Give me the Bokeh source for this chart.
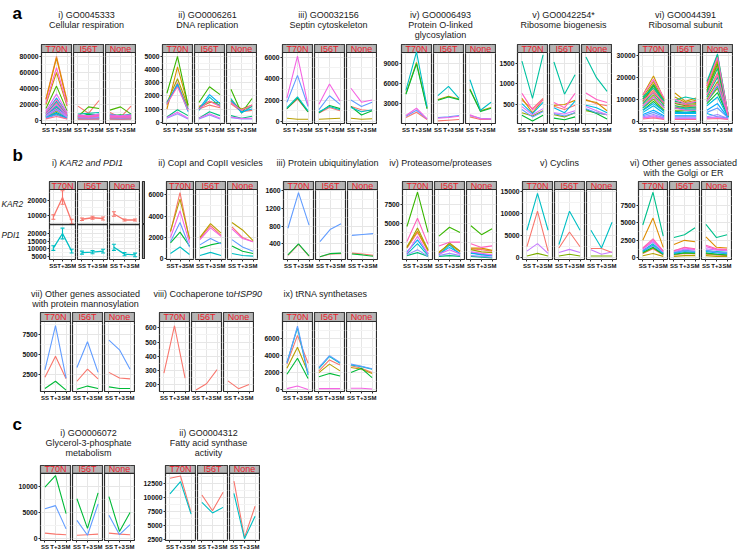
import math
from bokeh.plotting import figure
from bokeh.layouts import row, column
from bokeh.models import (Range1d, FixedTicker, ColumnDataSource, Whisker, TeeHead,
                          BasicTickFormatter, Spacer, Span, AllLabels)
from bokeh.core.properties import value
from bokeh.embed import file_html
from bokeh.resources import INLINE

# ---------------- data ----------------
STAGES = ["SS", "T+3", "SM"]
MUTANTS = ["T70N", "I56T", "None"]

# each row: T70N (SS, T+3, SM) | I56T (SS, T+3, SM) | None (SS, T+3, SM)
A1_RESPIRATION = [
    [9000, 22000, 7000, 18000, 9000, 25000, 10000, 4000, 18000],
    [27000, 80000, 25000, 5000, 4000, 6000, 6000, 4000, 5000],
    [26000, 78000, 23000, 6000, 5000, 7000, 7000, 5000, 6000],
    [20000, 60000, 18000, 4000, 4000, 5000, 5000, 3000, 4000],
    [8000, 18000, 6000, 3000, 3000, 4000, 3000, 2500, 3000],
    [5000, 12000, 4000, 2000, 2500, 2500, 2500, 2000, 2500],
    [3000, 8000, 2500, 2000, 2000, 2000, 2000, 1500, 2000],
    [15000, 43000, 12000, 5000, 17000, 15000, 13000, 17000, 8000],
    [7000, 16000, 6000, 4000, 8000, 7000, 6000, 7000, 5000],
    [4000, 10000, 3000, 3000, 4000, 3000, 3000, 3000, 3000],
    [6000, 14000, 5000, 3000, 3000, 3000, 4000, 3000, 3000],
    [5000, 20000, 6000, 8000, 9000, 10000, 7000, 6000, 8000],
    [8000, 24000, 7000, 6000, 5000, 6000, 8000, 5000, 7000],
    [6000, 18000, 5000, 4000, 4000, 4000, 5000, 4000, 4000],
    [10000, 28000, 9000, 5000, 6000, 8000, 6000, 5000, 6000],
    [4000, 9000, 3000, 3000, 2000, 3000, 3000, 2000, 3000],
    [3000, 7000, 2000, 2000, 2000, 2000, 2000, 2000, 2000],
    [5000, 13000, 4000, 4000, 3000, 4000, 4000, 3000, 4000],
    [6000, 15000, 5000, 5000, 4000, 5000, 6000, 4000, 5000],
    [12000, 33000, 10000, 7000, 6000, 8000, 7000, 6000, 7000],
    [8000, 20000, 6000, 6000, 5000, 6000, 5000, 5000, 6000],
    [22000, 66000, 20000, 6000, 5000, 7000, 6000, 5000, 6000],
    [10000, 26000, 8000, 5000, 4000, 6000, 4000, 4000, 4000],
    [2000, 5000, 2000, 2000, 1500, 2000, 2000, 1500, 2000],
]
A2_DNA_REPLICATION = [
    [1300, 3000, 1000, 1000, 1300, 1100, 1400, 800, 900],
    [1000, 4200, 1300, 1200, 1600, 1300, 1700, 900, 1200],
    [1500, 3300, 1200, 1100, 1500, 1500, 1500, 1000, 1300],
    [2200, 5000, 1300, 1500, 2700, 2100, 2500, 700, 1800],
    [400, 950, 500, 300, 800, 500, 500, 300, 450],
    [1500, 2800, 1000, 900, 1900, 1200, 1800, 700, 1200],
    [1400, 2900, 800, 1000, 2100, 1400, 1600, 800, 1000],
    [300, 650, 250, 250, 550, 250, 350, 250, 250],
    [350, 750, 300, 300, 650, 300, 400, 280, 300],
    [1400, 2700, 900, 1000, 1600, 1200, 1500, 900, 1300],
]
A3_SEPTIN = [
    [1200, 2100, 900, 800, 1300, 1000, 1400, 1100, 1000],
    [300, 200, 200, 200, 250, 300, 300, 200, 250],
    [1200, 2200, 900, 800, 1500, 1200, 1400, 600, 1000],
    [1300, 2300, 1000, 900, 1400, 1100, 1300, 900, 1100],
    [1800, 4300, 1400, 1100, 2400, 1600, 2000, 1400, 1800],
    [2200, 6100, 1500, 1600, 3500, 1900, 3100, 1800, 2000],
]
A4_O_GLYCOSYLATION = [
    [900, 1700, 600, 400, 500, 600, 1000, 600, 600],
    [4500, 9200, 2300, 3600, 4100, 3700, 5200, 1900, 2400],
    [4400, 9000, 2200, 3500, 4000, 3600, 5100, 1800, 2300],
    [5000, 10800, 2500, 4200, 5600, 3800, 6600, 2000, 3200],
    [1100, 2000, 700, 900, 1000, 1200, 1200, 800, 700],
    [1200, 2300, 700, 800, 900, 1100, 1300, 700, 700],
]
A5_RIBOSOME_BIOGENESIS = [
    [600, 400, 650, 460, 380, 480, 620, 520, 470],
    [650, 300, 620, 480, 500, 600, 600, 550, 350],
    [300, 220, 350, 250, 200, 300, 350, 300, 250],
    [240, 100, 240, 170, 130, 200, 380, 280, 150],
    [1550, 650, 1700, 1530, 750, 1220, 1650, 1150, 820],
    [520, 280, 550, 420, 300, 580, 480, 420, 300],
    [380, 200, 330, 280, 220, 300, 400, 300, 250],
    [450, 250, 400, 300, 270, 350, 450, 350, 250],
    [770, 370, 620, 550, 420, 770, 780, 620, 550],
]
A6_RIBOSOMAL_SUBUNIT = [
    [8000, 14000, 7000, 6000, 7000, 6000, 12000, 22000, 2500],
    [9000, 15000, 8000, 7000, 6500, 7000, 14000, 25000, 2500],
    [10000, 17000, 9000, 8000, 7500, 8000, 16000, 28000, 3000],
    [12000, 20500, 10000, 12800, 9000, 10500, 17000, 30000, 3000],
    [11000, 18000, 9500, 11000, 8500, 9500, 15000, 27000, 3000],
    [7000, 12000, 6000, 6000, 6000, 6000, 10000, 18000, 2000],
    [6000, 10000, 5000, 5000, 5000, 5000, 9000, 15000, 2000],
    [9000, 16000, 8000, 8000, 7000, 7500, 14000, 26000, 2500],
    [5000, 9000, 4500, 4500, 4000, 4500, 8000, 13000, 2000],
    [10000, 16500, 9000, 9000, 8000, 8500, 13000, 24000, 2500],
    [8000, 13000, 7000, 7000, 6000, 6500, 11000, 20000, 2000],
    [11000, 15000, 9000, 9500, 11000, 10000, 18000, 30500, 3000],
    [6000, 11000, 6000, 6000, 5500, 5500, 9000, 16000, 2000],
    [4000, 7000, 3500, 3500, 3500, 3500, 7000, 11000, 1800],
    [5000, 8000, 4500, 4000, 4000, 4000, 3500, 2000, 1500],
    [3000, 5000, 2500, 2500, 2500, 2500, 5000, 8000, 1500],
    [2500, 4000, 2000, 2000, 2000, 2000, 4000, 6000, 1500],
    [2000, 3000, 1500, 1500, 1500, 1500, 2000, 3000, 1200],
    [1500, 2500, 1200, 1200, 1200, 1200, 1500, 2000, 1000],
    [1500, 2000, 1000, 1000, 1000, 1000, 1500, 1500, 1000],
    [7000, 11000, 6000, 6000, 5000, 5000, 9000, 17000, 2500],
    [12000, 19000, 10500, 10000, 8000, 9000, 16000, 29000, 3000],
    [9500, 13000, 8500, 8500, 7500, 7000, 12000, 21000, 2500],
    [1000, 1500, 800, 800, 800, 800, 1000, 1200, 800],
]
B1_KAR2_MEAN = [9000, 22000, 6000, 7500, 8500, 8000, 11000, 7000, 7000]
B1_KAR2_ERR = [1500, 4500, 1500, 800, 1000, 1000, 1500, 700, 700]
B1_PDI1_MEAN = [10500, 20000, 8500, 7500, 7800, 8500, 11000, 6500, 6000]
B1_PDI1_ERR = [1500, 3500, 1200, 1000, 1000, 1200, 2000, 1000, 1200]
B2_COP_VESICLES = [
    [2500, 6200, 1800, 1900, 3100, 2200, 3000, 2000, 1600],
    [2600, 5600, 1900, 2000, 3300, 2400, 3400, 2700, 1700],
    [1500, 2500, 1200, 1000, 1300, 1500, 1200, 700, 500],
    [500, 1100, 400, 300, 600, 300, 500, 300, 250],
    [1600, 3400, 1100, 1300, 1900, 1400, 1800, 1100, 700],
    [2000, 4500, 1500, 1800, 2900, 2100, 2800, 1900, 1600],
]
B3_UBIQUITINYLATION = [
    [140, 390, 120, 110, 170, 180, 190, 170, 140],
    [150, 400, 130, 110, 180, 190, 170, 150, 120],
    [750, 1550, 820, 450, 730, 850, 590, 610, 630],
]
B4_PROTEASOME = [
    [1700, 3800, 1300, 1100, 2300, 1300, 1600, 1500, 1300],
    [1900, 4000, 1400, 1200, 2200, 1200, 1700, 1700, 1400],
    [1800, 4400, 1500, 1000, 2400, 1300, 1500, 1200, 1100],
    [4600, 9200, 3800, 3300, 4500, 3800, 4700, 3500, 4300],
    [700, 1100, 600, 600, 700, 600, 600, 500, 400],
    [900, 2300, 700, 800, 2100, 900, 1000, 900, 700],
    [1200, 2800, 900, 900, 1800, 1000, 1100, 800, 700],
    [800, 1500, 600, 700, 1000, 700, 700, 600, 500],
    [1000, 3300, 900, 900, 1500, 900, 1200, 1000, 800],
    [2600, 5700, 2200, 2000, 2500, 2500, 2300, 1800, 2000],
]
B5_CYCLINS = [
    [2500, 10500, 1500, 2200, 5800, 2500, 2100, 2100, 1200],
    [400, 1000, 400, 400, 800, 400, 400, 400, 400],
    [6200, 14500, 6200, 3000, 10500, 6200, 6200, 2200, 8000],
    [1500, 3200, 1000, 1200, 1900, 1200, 1800, 800, 1300],
]
B6_GOLGI_ER = [
    [600, 1300, 400, 400, 600, 600, 500, 400, 300],
    [2500, 5700, 1500, 1900, 2500, 2300, 3000, 1500, 1400],
    [300, 600, 200, 200, 300, 300, 300, 200, 200],
    [700, 1400, 500, 500, 700, 600, 600, 500, 400],
    [800, 1500, 500, 500, 700, 700, 700, 500, 400],
    [4700, 9400, 3100, 2900, 3300, 4300, 4800, 2900, 3300],
    [1000, 2000, 700, 700, 1100, 900, 1000, 900, 800],
    [900, 1800, 600, 600, 900, 800, 900, 700, 600],
    [1100, 1700, 800, 800, 1000, 900, 1100, 800, 700],
    [1200, 2300, 900, 900, 1200, 1100, 1300, 1100, 1000],
    [1300, 2500, 900, 1000, 1400, 1200, 1600, 1200, 1100],
    [1400, 2700, 1000, 1000, 1500, 1300, 1800, 1300, 1200],
]
B7_MANNOSYLATION = [
    [2200, 4800, 2000, 1700, 3200, 2000, 2800, 2100, 2000],
    [800, 1700, 600, 700, 1100, 800, 1000, 800, 800],
    [3100, 8600, 2100, 3400, 6600, 2800, 6800, 5600, 3200],
]
B8_HSP90_COCHAPERONE = [
    [280, 615, 245, 160, 205, 305, 225, 170, 200],
]
B9_TRNA_SYNTHETASES = [
    [3000, 6400, 3100, 2200, 3500, 2900, 2800, 2500, 2000],
    [2500, 5000, 2000, 2000, 3000, 2200, 2600, 2400, 1900],
    [1800, 3700, 1300, 1500, 1900, 1600, 2000, 2500, 1400],
    [3200, 7300, 1700, 2500, 3900, 3100, 2900, 2700, 2400],
    [3100, 7500, 1900, 2600, 4000, 3200, 3000, 2750, 2450],
    [100, 400, 0, 100, 100, 100, 150, 150, 50],
]
C1_GLYCEROL3P = [
    [1100, 900, 800, 700, 800, 900, 1100, 900, 800],
    [9800, 12000, 4800, 7600, 2000, 8700, 8000, 1400, 5000],
    [5700, 6300, 1900, 3500, 700, 6600, 4500, 800, 2700],
]
C2_FATTY_ACID = [
    [13500, 13900, 7400, 10500, 7700, 11000, 13000, 2900, 8500],
    [10700, 12900, 7100, 9200, 7300, 8300, 10800, 2700, 6700],
]

# tick values per panel
A_TICKS = [[0, 20000, 40000, 60000, 80000], [0, 1000, 2000, 3000, 4000, 5000],
           [0, 2000, 4000, 6000], [3000, 6000, 9000], [500, 1000, 1500],
           [0, 10000, 20000, 30000]]
B1_KAR2_TICKS = [10000, 20000]
B1_PDI1_TICKS = [5000, 10000, 15000, 20000]
B_TICKS = [[0, 2000, 4000, 6000], [400, 800, 1200, 1600], [2500, 5000, 7500],
           [0, 5000, 10000, 15000], [0, 2500, 5000, 7500]]
B2_TICKS = [[2500, 5000, 7500], [200, 300, 400, 500, 600], [0, 2000, 4000, 6000]]
C_TICKS = [[0, 5000, 10000], [2500, 5000, 7500, 10000, 12500]]

A_TITLES = [["i) GO0045333", "Cellular respiration"], ["ii) GO0006261", "DNA replication"],
            ["iii) GO0032156", "Septin cytoskeleton"],
            ["iv) GO0006493", "Protein O-linked", "glycosylation"],
            ["v) GO0042254*", "Ribosome biogenesis"], ["vi) GO0044391", "Ribosomal subunit"]]
B_TITLES = [["ii) CopI and CopII vesicles"], ["iii) Protein ubiquitinylation"],
            ["iv) Proteasome/proteases"], ["v) Cyclins"],
            ["vi) Other genes associated", "with the Golgi or ER"]]
B2_TITLES = [["vii) Other genes associated", "with protein mannosylation"], [], ["ix) tRNA synthetases"]]
C_TITLES = [["i) GO0006072", "Glycerol-3-phosphate", "metabolism"],
            ["ii) GO0004312", "Fatty acid synthase", "activity"]]

# ---------------- style ----------------
FONT = "Liberation Sans"
STRIP_FILL = "#b4b4b4"
STRIP_TEXT = "#e8202a"
BORDER = "#2b2b2b"
XLO, XHI = -0.42, 2.42
XS = list(range(len(STAGES)))
PAGE_W = 739


def gg_hue(n, h0=15.0, c=100.0, l=65.0):
    cols = []
    Xn, Yn, Zn = 95.047, 100.0, 108.883
    un = 4 * Xn / (Xn + 15 * Yn + 3 * Zn)
    vn = 9 * Yn / (Xn + 15 * Yn + 3 * Zn)
    for i in range(n):
        h = math.radians(h0 + 360.0 * i / n)
        u, v = c * math.cos(h), c * math.sin(h)
        Y = Yn * ((l + 16) / 116) ** 3
        up = u / (13 * l) + un
        vp = v / (13 * l) + vn
        X = 9 * Y * up / (4 * vp)
        Z = 3 * Y / vp - 5 * Y - X / 3
        X, Y, Z = X / 100, Y / 100, Z / 100
        rgb = [3.240479 * X - 1.537150 * Y - 0.498535 * Z,
               -0.969256 * X + 1.875992 * Y + 0.041556 * Z,
               0.055648 * X - 0.204043 * Y + 1.057311 * Z]
        out = []
        for ch in rgb:
            ch = 12.92 * ch if ch <= 0.0031308 else 1.055 * ch ** (1 / 2.4) - 0.055
            out.append(int(round(max(0, min(1, ch)) * 255)))
        cols.append("#%02x%02x%02x" % tuple(out))
    return cols


def minor_of(ticks, lo, hi):
    step = ticks[1] - ticks[0]
    cand = [t - step / 2 for t in ticks] + [ticks[-1] + step / 2]
    return [m for m in cand if lo < m < hi]


def style_axes(p, show_x, show_y):
    if show_x:
        ax = p.xaxis[0]
        ax.ticker = FixedTicker(ticks=XS)
        ax.major_label_overrides = {i: s for i, s in enumerate(STAGES)}
        ax.major_label_policy = AllLabels()
        ax.axis_line_color = None
        ax.major_tick_out = 2
        ax.major_tick_in = 0
        ax.major_tick_line_color = BORDER
        ax.minor_tick_line_color = None
        ax.major_label_standoff = 1
        ax.major_label_text_font = FONT
        ax.major_label_text_font_style = "bold"
        ax.major_label_text_font_size = "6px"
        ax.major_label_text_color = "#111111"
    if show_y:
        ay = p.yaxis[0]
        ay.formatter = BasicTickFormatter(use_scientific=False)
        ay.major_label_policy = AllLabels()
        ay.axis_line_color = None
        ay.major_tick_out = 2
        ay.major_tick_in = 0
        ay.major_tick_line_color = BORDER
        ay.minor_tick_line_color = None
        ay.major_label_standoff = 1
        ay.major_label_text_font = FONT
        ay.major_label_text_font_style = "bold"
        ay.major_label_text_font_size = "6.8px"
        ay.major_label_text_color = "#111111"


def base_fig(width, height, left, bottom, yrange, show_x, show_y, top_pad=1):
    p = figure(width=width, height=height, x_range=Range1d(XLO, XHI), y_range=yrange,
               output_backend="svg", toolbar_location=None,
               x_axis_location="below" if show_x else None,
               y_axis_location="left" if show_y else None,
               min_border=0, min_border_left=left,
               min_border_bottom=bottom if show_x else 0,
               min_border_right=1, min_border_top=top_pad)
    p.background_fill_color = "white"
    p.border_fill_color = "white"
    p.outline_line_color = BORDER
    p.outline_line_width = 1.2
    p.xgrid.ticker = FixedTicker(ticks=XS)
    p.xgrid.grid_line_color = "#e6e6e6"
    p.ygrid.grid_line_color = "#e6e6e6"
    p.ygrid.minor_grid_line_color = "#f3f3f3"
    style_axes(p, show_x, show_y)
    return p


def add_strip(p, lo, hi, label, rname="default"):
    p.quad(left=[XLO], right=[XHI], bottom=[lo], top=[hi], fill_color=STRIP_FILL,
           line_color=BORDER, line_width=1.2, y_range_name=rname)
    p.text(x=[XS[1]], y=[(lo + hi) / 2], text=[label], text_align="center",
           text_baseline="middle", text_color=STRIP_TEXT, text_font=value(FONT),
           text_font_size="9px", y_range_name=rname)


def facet_fig(fw, left, strip_h, plot_h, bottom, yr, ticks, label, show_y):
    y0, y1 = yr
    ytop = y1 + (y1 - y0) * strip_h / plot_h
    p = base_fig(left + fw + 1, 1 + strip_h + plot_h + bottom, left, bottom,
                 Range1d(y0, ytop), True, show_y)
    p.ygrid.ticker = FixedTicker(ticks=ticks, minor_ticks=minor_of(ticks, y0, y1))
    if show_y:
        p.yaxis[0].ticker = FixedTicker(ticks=ticks)
    add_strip(p, y1, ytop, label)
    return p


def add_lines(p, series, fi, colors):
    ys = [s[fi * 3:fi * 3 + 3] for s in series]
    src = ColumnDataSource(dict(xs=[XS] * len(ys), ys=ys, c=colors[:len(ys)]))
    p.multi_line(xs="xs", ys="ys", line_color="c", line_width=1.1, source=src)


def panel(series, ticks, yr, left, geom, fw=30, colors=None):
    strip_h, plot_h, bottom = geom
    if colors is None:
        colors = gg_hue(len(series))
    figs = []
    for fi, m in enumerate(MUTANTS):
        p = facet_fig(fw, left if fi == 0 else 1, strip_h, plot_h, bottom, yr, ticks, m,
                      show_y=(fi == 0))
        add_lines(p, series, fi, colors)
        figs.append(p)
    return figs


def title_band(h, top, items, letters=()):
    p = figure(width=PAGE_W, height=h, x_range=Range1d(0, PAGE_W),
               y_range=Range1d(top + h, top), output_backend="svg", toolbar_location=None,
               x_axis_location=None, y_axis_location=None, min_border=0)
    p.outline_line_color = None
    p.grid.visible = False
    p.background_fill_color = "white"
    p.border_fill_color = "white"
    for (x, y, txt, style, align) in items:
        p.text(x=[x], y=[y], text=[txt], text_align=align, text_baseline="middle",
               text_font=value(FONT), text_font_size="9px", text_font_style=style,
               text_color="#1a1a1a")
    for (x, y, txt) in letters:
        p.text(x=[x], y=[y], text=[txt], text_align="left", text_baseline="middle",
               text_font=value(FONT), text_font_size="17px", text_font_style="bold",
               text_color="black")
    return p


def centered(lines, cx, y0, dy=10.3):
    return [(cx, y0 + i * dy, t, "normal", "center") for i, t in enumerate(lines)]


def side_strip(h, top_pad=0):
    s = figure(width=5, height=h + top_pad, x_range=Range1d(0, 1), y_range=Range1d(0, 1),
               output_backend="svg", toolbar_location=None, x_axis_location=None,
               y_axis_location=None, min_border=0, min_border_left=2,
               min_border_top=top_pad)
    s.grid.visible = False
    s.background_fill_color = STRIP_FILL
    s.border_fill_color = "white"
    s.outline_line_color = BORDER
    s.outline_line_width = 1.2
    return s


def add_errbars(p, mean, err, fi, col, rname="default"):
    mu = mean[fi * 3:fi * 3 + 3]
    er = err[fi * 3:fi * 3 + 3]
    src = ColumnDataSource(dict(x=XS, y=mu, lo=[a - b for a, b in zip(mu, er)],
                                hi=[a + b for a, b in zip(mu, er)]))
    p.line("x", "y", source=src, line_color=col, line_width=1.3, y_range_name=rname)
    p.add_layout(Whisker(source=src, base="x", upper="hi", lower="lo", line_color=col,
                         line_width=1.1, y_range_name=rname,
                         upper_head=TeeHead(size=4, line_color=col, line_width=1.1),
                         lower_head=TeeHead(size=4, line_color=col, line_width=1.1)))


# ---------------- band A ----------------
A_SERIES = [A1_RESPIRATION, A2_DNA_REPLICATION, A3_SEPTIN, A4_O_GLYCOSYLATION,
            A5_RIBOSOME_BIOGENESIS, A6_RIBOSOMAL_SUBUNIT]
A_RANGES = [(-3750, 85000), (-100, 5300), (-190, 6440), (0, 10700), (40, 1760), (-1050, 31200)]
A_LEFTS = [41, 26, 25, 24, 21, 26]
A_CX = [86, 207, 328, 440, 563, 685]
geomA = (8, 71, 13)
figsA = []
for s, t, r, lf in zip(A_SERIES, A_TICKS, A_RANGES, A_LEFTS):
    figsA += panel(s, t, r, lf, geomA)
itemsA = []
for ttl, cx in zip(A_TITLES, A_CX):
    itemsA += centered(ttl, cx, 14)
bandA = column(title_band(43, 0, itemsA, [(12, 13, "a")]), row(figsA))

# ---------------- band B ----------------
geomB = (8, 70, 13)
kar_col, pdi_col = gg_hue(2)[0], gg_hue(2)[1]
PDI_R, KAR_R = (3000, 25900), (4000, 27300)
ROW_H, STRIP_H = 35, 8
b1_figs = []
for fi, m in enumerate(MUTANTS):
    lf = 21 if fi == 0 else 1
    y0, y1 = PDI_R
    k0, k1 = KAR_R
    frame_h = STRIP_H + 2 * ROW_H
    ytop = y0 + (y1 - y0) * frame_h / ROW_H
    ks = (k1 - k0) / ROW_H
    kstart, kend = k0 - ROW_H * ks, k1 + STRIP_H * ks
    p = base_fig(lf + 30 + 1, 1 + frame_h + 13, lf, 13, Range1d(y0, ytop), True, fi == 0)
    p.extra_y_ranges = {"kar": Range1d(kstart, kend)}

    def k2y(k):
        return y0 + (k - kstart) / ks * (y1 - y0) / ROW_H

    kt = [k2y(k) for k in B1_KAR2_TICKS]
    kminor = [k2y(k) for k in minor_of(B1_KAR2_TICKS, k0, k1)]
    p.ygrid.ticker = FixedTicker(ticks=B1_PDI1_TICKS + kt,
                                 minor_ticks=minor_of(B1_PDI1_TICKS, y0, y1) + kminor)
    if fi == 0:
        p.yaxis[0].ticker = FixedTicker(ticks=B1_PDI1_TICKS + kt)
        p.yaxis[0].major_label_overrides = {t: str(k) for t, k in zip(kt, B1_KAR2_TICKS)}
    p.add_layout(Span(location=y1, dimension="width", line_color=BORDER, line_width=1.5))
    add_strip(p, k1, kend, m, rname="kar")
    add_errbars(p, B1_KAR2_MEAN, B1_KAR2_ERR, fi, kar_col, rname="kar")
    add_errbars(p, B1_PDI1_MEAN, B1_PDI1_ERR, fi, pdi_col)
    b1_figs.append(p)
lab = figure(width=24, height=92, x_range=Range1d(0, 24), y_range=Range1d(272, 180),
             output_backend="svg", toolbar_location=None, x_axis_location=None,
             y_axis_location=None, min_border=0)
lab.outline_line_color = None
lab.grid.visible = False
lab.text(x=[1, 1], y=[207, 243], text=["KAR2", "PDI1"], text_align="left",
         text_baseline="middle", text_font=value(FONT), text_font_size="8.3px",
         text_font_style="italic", text_color="#1a1a1a")
b1_side = column(side_strip(43, top_pad=1), side_strip(35), Spacer(width=5, height=13))

B_SERIES = [B2_COP_VESICLES, B3_UBIQUITINYLATION, B4_PROTEASOME, B5_CYCLINS, B6_GOLGI_ER]
B_RANGES = [(-70, 6500), (47, 1622), (180, 9550), (-380, 15380), (-250, 9800)]
B_LEFTS = [18, 25, 24, 25, 20]
B_CX = [210, 327, 440, 559, 683]
figsB = []
for s, t, r, lf in zip(B_SERIES, B_TICKS, B_RANGES, B_LEFTS):
    figsB += panel(s, t, r, lf, geomB)
itemsB = [(51.5, 162, "i)", "normal", "left"), (59.0, 162, "KAR2 and PDI1", "italic", "left")]
for ttl, cx in zip(B_TITLES, B_CX):
    itemsB += centered(ttl, cx, 162)
bandB = column(title_band(44, 136, itemsB, [(12, 155, "b")]),
               row([lab] + b1_figs + [b1_side] + figsB))

# ---------------- band B2 ----------------
geomB2 = (9, 70, 13)
B2_SERIES = [B7_MANNOSYLATION, B8_HSP90_COCHAPERONE, B9_TRNA_SYNTHETASES]
B2_RANGES = [(430, 9110), (150, 645), (-240, 8040)]
B2_LEFTS = [40, 24, 28]
B2_CX = [85, 207, 325]
figsB2 = []
for s, t, r, lf in zip(B2_SERIES, B2_TICKS, B2_RANGES, B2_LEFTS):
    figsB2 += panel(s, t, r, lf, geomB2)
itemsB2 = [(153, 293, "viii) Cochaperone to", "normal", "left"),
           (233, 293, "HSP90", "italic", "left")]
for ttl, cx in zip(B2_TITLES, B2_CX):
    itemsB2 += centered(ttl, cx, 293)
bandB2 = column(title_band(39, 272, itemsB2), row(figsB2))

# ---------------- band C ----------------
geomC = (8, 68, 11)
C_SERIES = [C1_GLYCEROL3P, C2_FATTY_ACID]
C_RANGES = [(-300, 12400), (2380, 14370)]
C_LEFTS = [40, 30]
C_CX = [88, 208]
figsC = []
for s, t, r, lf in zip(C_SERIES, C_TICKS, C_RANGES, C_LEFTS):
    figsC += panel(s, t, r, lf, geomC)
itemsC = []
for ttl, cx in zip(C_TITLES, C_CX):
    itemsC += centered(ttl, cx, 432)
bandC = column(title_band(60, 404, itemsC, [(12, 424, "c")]), row(figsC))

root = column(bandA, bandB, bandB2, bandC)
open("out.html", "w").write(file_html(root, INLINE))
